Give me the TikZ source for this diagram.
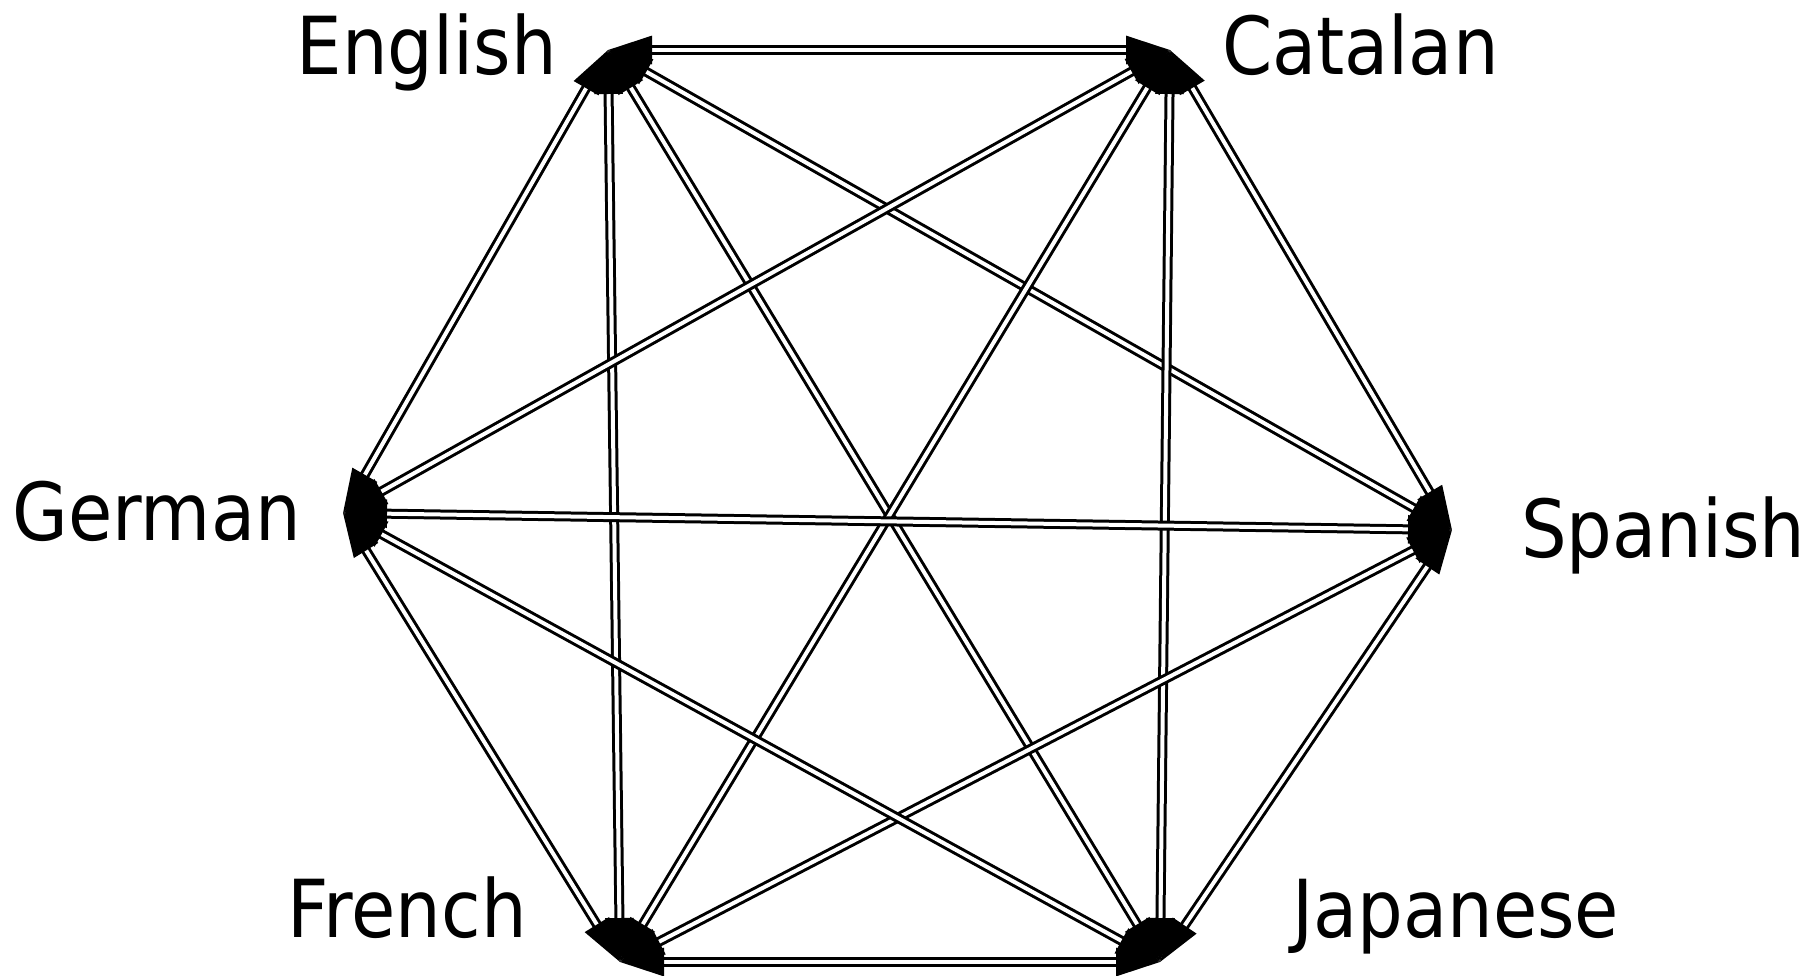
\documentclass[tikz,border=0pt]{standalone}
\usepackage{fontspec}
\setmainfont{DejaVu Sans}[FakeStretch=0.9]
\usetikzlibrary{arrows.meta}
\tikzset{
  edge/.style={draw=black, line width=3pt, double=white, double distance=4pt,
    {Triangle[length=44pt,width=28pt]}-{Triangle[length=44pt,width=28pt]}},
  lang/.style={inner sep=0pt, font=\fontsize{80}{96}\selectfont}
}
\begin{document}
\begin{tikzpicture}[x=1pt,y=-1pt]
\useasboundingbox (0,0) rectangle (1810,975);
% vertices
\coordinate (E) at (608,50);
\coordinate (C) at (1170,50);
\coordinate (S) at (1452,530);
\coordinate (J) at (1160,962);
\coordinate (F) at (620,962);
\coordinate (G) at (343,513);
% labels
\node[lang, anchor=base east] (lE) at (557,74) {English};
\node[lang, anchor=base west] (lC) at (1222,74) {Catalan};
\node[lang, anchor=base east] (lG) at (301,540) {German};
\node[lang, anchor=base west] (lS) at (1521,557) {Spanish};
\node[lang, anchor=base east] (lF) at (527,937) {French};
\node[lang, anchor=base west] (lJ) at (1292,937) {Japanese};
% edges
\draw[edge] (E) -- (C);
\draw[edge] (E) -- (S);
\draw[edge] (E) -- (J);
\draw[edge] (E) -- (F);
\draw[edge] (E) -- (G);
\draw[edge] (C) -- (S);
\draw[edge] (C) -- (J);
\draw[edge] (C) -- (F);
\draw[edge] (C) -- (G);
\draw[edge] (S) -- (J);
\draw[edge] (S) -- (F);
\draw[edge] (S) -- (G);
\draw[edge] (J) -- (F);
\draw[edge] (J) -- (G);
\draw[edge] (F) -- (G);
\end{tikzpicture}
\end{document}
